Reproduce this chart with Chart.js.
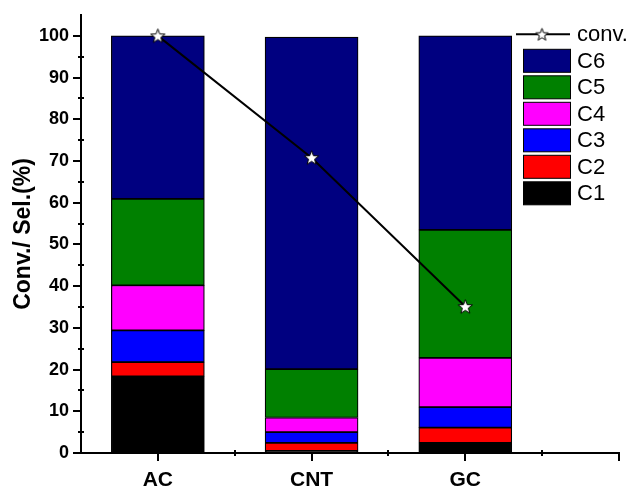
<!DOCTYPE html>
<html>
<head>
<meta charset="utf-8">
<script src="https://cdn.jsdelivr.net/npm/chart.js@4.4.0/dist/chart.umd.min.js"></script>
<style>
  html, body { margin: 0; padding: 0; background: #fff; }
  #wrap { width: 629px; height: 490px; }
</style>
</head>
<body>
<div id="wrap"><canvas id="convChart" width="629" height="490"></canvas></div>
<script>
// categorii si pozitii pe axa x (axa merge de la 0 la 3.5)
const catalysts = ['AC', 'CNT', 'GC'];
const catPos = [0.5, 1.5, 2.5];

// selectivitati pe fractii (%), de jos in sus
const fractions = ['C1', 'C2', 'C3', 'C4', 'C5', 'C6'];
const c1 = [18.4, 0.5, 2.4];
const c2 = [3.4, 1.9, 3.7];
const c3 = [7.6, 2.6, 4.9];
const c4 = [10.8, 3.5, 11.8];
const c5 = [20.7, 11.6, 30.7];
const c6 = [39.1, 79.6, 46.5];
const conversion = [100, 70.8, 35.1];

const colors = ['#000000', '#ff0000', '#0000ff', '#ff00ff', '#008000', '#000080'];
const FONT = '"Liberation Sans", Arial, Helvetica, sans-serif';

function makeStar(size) {
    const c = document.createElement('canvas');
    c.width = size; c.height = size;
    const g = c.getContext('2d');
    const cx = size / 2, cy = size / 2 + 0.6, R = size / 2 - 1, r = R * 0.42;
    g.beginPath();
    for (let i = 0; i < 10; i++) {
        const rad = i % 2 === 0 ? R : r;
        const a = -Math.PI / 2 + i * Math.PI / 5;
        g.lineTo(cx + rad * Math.cos(a), cy + rad * Math.sin(a));
    }
    g.closePath();
    g.fillStyle = '#fff'; g.fill();
    g.strokeStyle = '#000'; g.lineWidth = 1; g.stroke();
    return c;
}
const starBig = makeStar(17);
const starSmall = makeStar(15);

const series = [c1, c2, c3, c4, c5, c6];
const datasets = fractions.map((name, i) => ({
    type: 'bar',
    label: name,
    data: catPos.map((x, j) => ({ x: x, y: series[i][j] })),
    backgroundColor: colors[i],
    borderColor: '#000',
    borderWidth: 1.2,
    borderSkipped: false,
    barThickness: 93,
    stack: 'sel',
    order: 1
}));
datasets.push({
    type: 'line',
    label: 'conv.',
    data: catPos.map((x, j) => ({ x: x, y: conversion[j] })),
    borderColor: '#000',
    borderWidth: 2,
    pointStyle: starBig,
    pointRadius: 8,
    stack: 'conv',
    order: 0
});

// tick-uri majore / minore desenate manual
const axisTicks = {
    id: 'axisTicks',
    afterDraw(chart) {
        const { ctx, scales: { x, y } } = chart;
        ctx.save();
        ctx.strokeStyle = '#000';
        ctx.lineWidth = 2;
        y.ticks.forEach(t => {
            if (t.value > 100) return;
            const py = Math.round(y.getPixelForValue(t.value));
            const major = t.value % 10 === 0;
            ctx.beginPath();
            ctx.moveTo(x.left - (major ? 8 : 3), py);
            ctx.lineTo(x.left + (major ? 0 : 3), py);
            ctx.stroke();
        });
        x.ticks.forEach(t => {
            if (t.value === 0) return;
            const px = Math.round(x.getPixelForValue(t.value));
            const major = t.value % 1 !== 0;
            ctx.beginPath();
            ctx.moveTo(px, y.bottom - (major ? 0 : 3));
            ctx.lineTo(px, y.bottom + (major ? 8 : 3));
            ctx.stroke();
        });
        ctx.restore();
    }
};

// legenda peste grafic, sus in dreapta
const legendBox = {
    id: 'legendBox',
    afterDraw(chart) {
        const ctx = chart.ctx;
        const y0 = 34.3, rowH = 26.5, textX = 577;
        ctx.save();
        ctx.font = '22px ' + FONT;
        ctx.textBaseline = 'middle';
        ctx.strokeStyle = '#000';
        ctx.lineWidth = 2;
        ctx.beginPath();
        ctx.moveTo(516, y0);
        ctx.lineTo(570, y0);
        ctx.stroke();
        ctx.drawImage(starSmall, 542 - starSmall.width / 2, y0 - starSmall.height / 2);
        ctx.fillStyle = '#000';
        ctx.fillText('conv.', textX, y0 + 1);
        const bars = chart.data.datasets.filter(d => d.type === 'bar').slice().reverse();
        bars.forEach((d, k) => {
            const cy = y0 + rowH * (k + 1);
            ctx.fillStyle = d.backgroundColor;
            ctx.fillRect(523.5, cy - 11.5, 47, 23);
            ctx.lineWidth = 1;
            ctx.strokeRect(523.5, cy - 11.5, 47, 23);
            ctx.fillStyle = '#000';
            ctx.fillText(d.label, textX, cy + 1);
        });
        ctx.restore();
    }
};

new Chart(document.getElementById('convChart').getContext('2d'), {
    data: { datasets: datasets },
    options: {
        responsive: false,
        animation: false,
        layout: { padding: { top: 15, right: 7, left: 0, bottom: 0 } },
        plugins: { legend: { display: false }, tooltip: { enabled: false } },
        scales: {
            x: {
                type: 'linear',
                min: 0,
                max: 3.5,
                offset: false,
                stacked: true,
                ticks: {
                    stepSize: 0.5,
                    autoSkip: false,
                    maxRotation: 0,
                    padding: 15,
                    color: '#000',
                    font: { family: FONT, size: 21, weight: 'bold' },
                    callback: v => {
                        const i = catPos.indexOf(v);
                        return i >= 0 ? catalysts[i] : '';
                    }
                },
                grid: { display: false, drawTicks: false, offset: false },
                border: { display: true, color: '#000', width: 2 },
                afterFit: s => { s.height = 37; s.paddingLeft = 0; s.paddingRight = 0; }
            },
            y: {
                min: 0,
                max: 105,
                stacked: true,
                ticks: {
                    stepSize: 5,
                    autoSkip: false,
                    padding: 12,
                    color: '#000',
                    font: { family: FONT, size: 18, weight: 'bold' },
                    callback: v => (v % 10 === 0 && v <= 100) ? v : ''
                },
                grid: { display: false, drawTicks: false },
                border: { display: true, color: '#000', width: 2 },
                title: {
                    display: true,
                    text: 'Conv./ Sel.(%)',
                    color: '#000',
                    font: { family: FONT, size: 23, weight: 'bold' },
                    padding: { top: 10, bottom: 0 }
                },
                afterFit: s => { s.width = 81; s.paddingTop = 0; s.paddingBottom = 0; }
            }
        }
    },
    plugins: [axisTicks, legendBox]
});
</script>
</body>
</html>
